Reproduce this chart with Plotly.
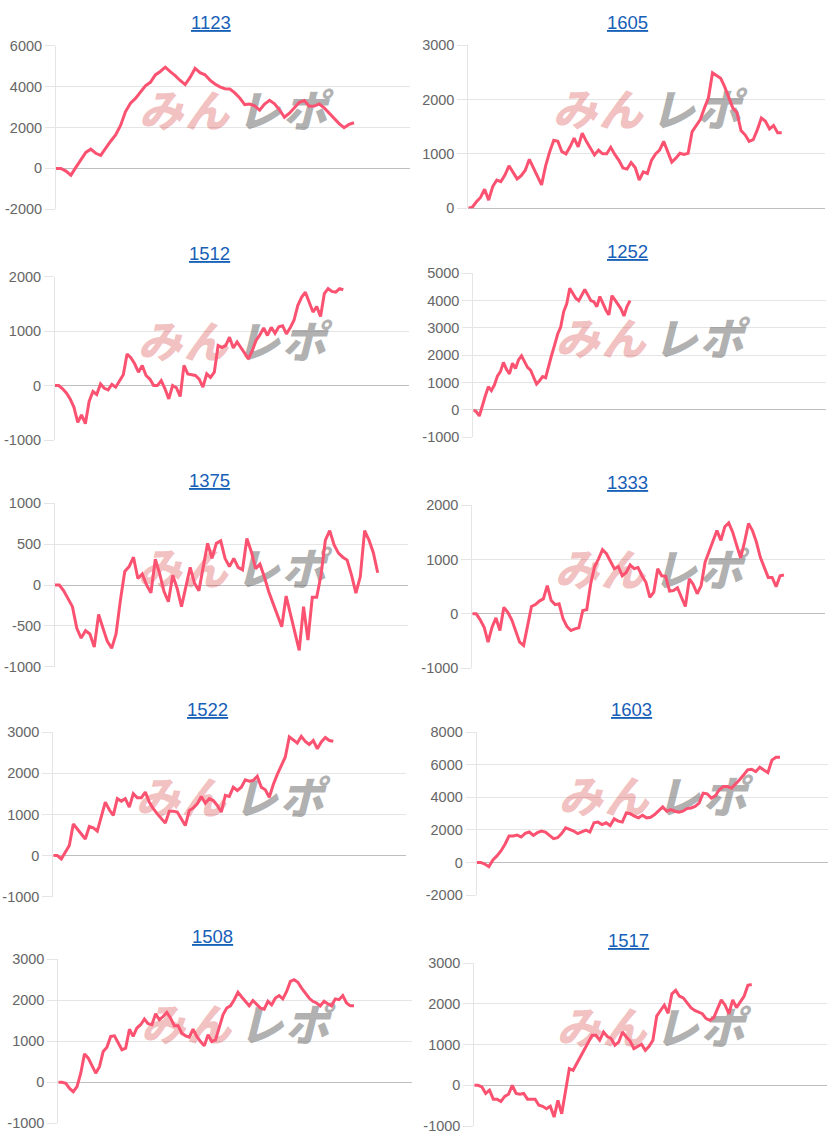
import plotly.graph_objects as go

# ---------------- data ----------------
TITLES = ["1123", "1605", "1512", "1252", "1375", "1333", "1522", "1603", "1508", "1517"]

S_1123 = [0, 0, -130, -330, 50, 440, 780, 940, 740, 640,
          1000, 1330, 1640, 2100, 2780, 3190, 3420, 3720, 4040, 4210,
          4570, 4740, 4950, 4730, 4540, 4300, 4100, 4450, 4890, 4680,
          4580, 4320, 4130, 3990, 3900, 3880, 3690, 3440, 3120, 3150,
          3060, 2850, 3150, 3330, 3160, 2860, 2500, 2700, 2950, 3230,
          3320, 3040, 3045, 3150, 2960, 2700, 2420, 2190, 1990, 2150, 2230]

S_1605 = [0, 20, 120, 200, 350, 150, 400, 520, 490, 610,
          780, 670, 540, 600, 700, 900, 740, 580, 430, 780,
          1040, 1250, 1230, 1040, 1000, 1130, 1290, 1130, 1380, 1230,
          1100, 980, 1070, 1000, 1000, 1120, 990, 880, 740, 720,
          840, 750, 520, 670, 640, 880, 1000, 1070, 1230, 1040,
          850, 920, 1010, 990, 1010, 1410, 1520, 1630, 1840, 2030,
          2490, 2440, 2390, 2230, 2030, 1840, 1760, 1430, 1350, 1230,
          1260, 1440, 1660, 1600, 1460, 1520, 1390, 1390]

S_1512 = [0, 0, -60, -135, -245, -400, -675, -540, -700, -290,
          -110, -165, 30, -50, -80, 20, -30, 90, 200, 580,
          510, 400, 245, 370, 185, 120, 0, 0, 90, -60,
          -245, 0, -40, -200, 370, 215, 195, 185, 120, -30,
          215, 150, 245, 735, 700, 735, 890, 690, 800, 700,
          610, 490, 640, 830, 930, 1060, 920, 1070, 960, 1080,
          1100, 950, 1060, 1200, 1470, 1620, 1715, 1530, 1350, 1450,
          1270, 1690, 1780, 1730, 1715, 1780, 1760]

S_1252 = [0, -60, -220, 180, 520, 850, 710, 910, 1240, 1400,
          1740, 1490, 1320, 1710, 1520, 1830, 1980, 1770, 1560, 1460,
          1220, 950, 1070, 1220, 1180, 1650, 2010, 2380, 2780, 3030,
          3600, 3880, 4450, 4270, 4090, 4000, 4210, 4410, 4210, 4000,
          3960, 3780, 4150, 3880, 3660, 3480, 4180, 4030, 3840, 3700,
          3440, 3780, 4000]

S_1375 = [0, 0, -70, -160, -265, -530, -650, -560, -600, -760,
          -360, -530, -690, -775, -600, -185, 165, 225, 340, 80,
          135, 0, -95, 315, 140, -80, -205, 120, -40, -265,
          -20, 215, 20, -70, 225, 510, 325, 510, 540, 325,
          225, 325, 215, 185, 570, 410, 200, 255, 100, -80,
          -225, -365, -510, -135, -345, -590, -800, -265, -675, -150,
          -150, 120, 550, 665, 490, 390, 340, 305, 120, -100,
          100, 665, 550, 395, 150]

S_1333 = [0, 0, -110, -245, -520, -245, -75, -305, 120, 30,
          -110, -305, -520, -580, -215, 135, 170, 235, 275, 520,
          245, 170, 185, -90, -235, -305, -275, -255, 60, 75,
          550, 870, 1010, 1180, 1105, 980, 830, 870, 700, 760,
          900, 830, 850, 700, 580, 305, 400, 830, 700, 690,
          420, 430, 480, 305, 135, 645, 540, 370, 520, 950,
          1135, 1320, 1530, 1350, 1600, 1670, 1500, 1260, 1030, 1320,
          1660, 1530, 1320, 1040, 850, 670, 670, 500, 700, 715]

S_1522 = [0, 0, -80, 80, 245, 770, 650, 530, 405, 710,
          675, 595, 980, 1300, 1115, 980, 1385, 1325, 1385, 1180,
          1505, 1405, 1405, 1545, 1300, 1140, 1015, 895, 790, 1080,
          1080, 1060, 895, 730, 1100, 1160, 1260, 1440, 1275, 1385,
          1340, 1220, 1060, 1465, 1440, 1665, 1585, 1665, 1845, 1810,
          1830, 1930, 1665, 1600, 1420, 1730, 1975, 2195, 2400, 2890,
          2820, 2740, 2900, 2780, 2705, 2800, 2600, 2765, 2875, 2800, 2780]

S_1603 = [0, 0, -100, -260, 160, 400, 710, 1120, 1630, 1630,
          1680, 1560, 1790, 1870, 1660, 1830, 1930, 1870, 1660, 1460,
          1520, 1770, 2130, 2030, 1930, 1770, 1870, 1990, 1870, 2440,
          2480, 2330, 2440, 2270, 2680, 2540, 2480, 3040, 3000, 2840,
          2740, 2900, 2740, 2780, 2940, 3150, 3410, 3150, 3250, 3150,
          3090, 3150, 3310, 3350, 3450, 3650, 4260, 4220, 3960, 4100,
          4470, 4670, 4670, 4570, 4810, 5080, 5380, 5690, 5730, 5580,
          5850, 5690, 5520, 6290, 6460, 6460]

S_1508 = [0, 0, -25, -150, -230, -105, 220, 690, 585, 380,
          220, 380, 750, 855, 1115, 1130, 950, 790, 830, 1290,
          1115, 1320, 1400, 1540, 1425, 1400, 1665, 1520, 1600, 1700,
          1560, 1375, 1375, 1195, 1130, 1100, 1290, 1115, 990, 885,
          1155, 990, 1030, 1360, 1640, 1805, 1860, 2010, 2190, 2075,
          1970, 1860, 1990, 1885, 1805, 1780, 1970, 1885, 2050, 2110,
          2030, 2210, 2455, 2495, 2435, 2290, 2155, 2050, 1970, 1930,
          1860, 1970, 1910, 1860, 2030, 2010, 2110, 1930, 1860, 1860]

S_1517 = [0, 0, -40, -200, -120, -340, -340, -400, -270, -220,
          0, -200, -220, -200, -340, -340, -340, -490, -515, -575,
          -515, -780, -370, -700, -120, 410, 370, 535, 700, 900,
          1040, 1230, 1230, 1110, 1310, 1200, 1150, 985, 1060, 1310,
          1190, 1090, 900, 960, 1010, 860, 960, 1110, 1700, 1840,
          1970, 1770, 2250, 2335, 2190, 2150, 2020, 1910, 1840, 1800,
          1760, 1640, 1600, 1660, 1890, 2100, 1970, 1760, 2100, 1910,
          2050, 2190, 2460, 2480]

SERIES = [S_1123, S_1605, S_1512, S_1252, S_1375, S_1333, S_1522, S_1603, S_1508, S_1517]

Y_MIN = [-2000, 0, -1000, -1000, -1000, -1000, -1000, -2000, -1000, -1000]
Y_MAX = [6000, 3000, 2000, 5000, 1000, 2000, 3000, 8000, 3000, 3000]
Y_STEP = [2000, 1000, 1000, 1000, 500, 1000, 1000, 2000, 1000, 1000]

WATERMARK = ["み", "ん", "レ", "ポ"]

# ---------------- layout / styling ----------------
W, H = 831, 1140
# plot box per panel in page pixels: left, right, top, bottom, x-pixel where data ends,
# title centre x, title centre y
GEOM = [
    (56.0, 410.0, 45.7, 209.3, 354.0, 211.2, 23.0),
    (468.3, 825.0, 45.0, 208.3, 781.7, 627.8, 22.2),
    (55.0, 408.5, 276.7, 440.0, 343.3, 209.2, 253.7),
    (473.3, 825.7, 273.3, 437.3, 630.0, 627.5, 251.2),
    (55.0, 408.0, 503.3, 666.7, 377.7, 209.2, 480.3),
    (472.3, 825.0, 505.0, 668.3, 784.0, 627.2, 482.2),
    (53.3, 406.0, 732.3, 896.7, 333.3, 207.2, 709.7),
    (476.7, 828.3, 732.3, 895.0, 780.0, 631.2, 709.5),
    (58.3, 411.7, 959.0, 1123.3, 354.0, 212.8, 936.7),
    (474.3, 826.7, 963.3, 1126.0, 751.7, 628.7, 940.3),
]

LINE_COLOR = "rgb(250,82,112)"
GRID_COLOR = "rgba(0,0,0,0.1)"
ZERO_COLOR = "rgba(0,0,0,0.25)"
TICK_FONT = dict(family="Liberation Sans, Arial, sans-serif", size=14.5, color="#666666")
TITLE_FONT = dict(family="Liberation Sans, Arial, sans-serif", size=18.5, color="#1760b8",
                  lineposition="under")
WM_COLORS = ["rgba(210,40,40,0.30)", "rgba(210,40,40,0.30)",
             "rgba(90,90,90,0.47)", "rgba(90,90,90,0.47)"]
WM_OFFSETS_PX = [-72, -26, 26, 72]
WM_YFRAC = 0.57

fig = go.Figure()
layout = dict(width=W, height=H, margin=dict(l=0, r=0, t=0, b=0, autoexpand=False),
              paper_bgcolor="white", plot_bgcolor="white", showlegend=False,
              annotations=[])

for i, vals in enumerate(SERIES):
    k = "" if i == 0 else str(i + 1)
    l, r, t, b, end, tcx, tcy = GEOM[i]
    n = len(vals)
    xmax = (n - 1) * (r - l) / (end - l)
    tickvals = list(range(Y_MIN[i], Y_MAX[i] + 1, Y_STEP[i]))
    layout["xaxis" + k] = dict(domain=[l / W, r / W], range=[0, xmax], visible=False,
                               fixedrange=True, anchor="y" + k)
    layout["yaxis" + k] = dict(domain=[1 - b / H, 1 - t / H], range=[Y_MIN[i], Y_MAX[i]],
                               tickmode="array", tickvals=tickvals,
                               ticktext=[str(v) for v in tickvals], anchor="x" + k,
                               showgrid=True, gridcolor=GRID_COLOR, gridwidth=1,
                               zeroline=True, zerolinecolor=ZERO_COLOR, zerolinewidth=1,
                               showline=True, linecolor=GRID_COLOR, linewidth=1,
                               ticks="outside", ticklen=10, tickcolor=GRID_COLOR,
                               tickfont=TICK_FONT, fixedrange=True)
    # watermark (below the line)
    px_per_x = xmax / (r - l)
    wx = [xmax / 2 + o * px_per_x for o in WM_OFFSETS_PX]
    wy = [Y_MIN[i] + (Y_MAX[i] - Y_MIN[i]) * WM_YFRAC] * 4
    fig.add_trace(go.Scatter(x=wx, y=wy, mode="text", text=WATERMARK,
                             textposition="middle center",
                             textfont=dict(family="Noto Sans CJK JP", size=44,
                                           color=WM_COLORS, weight=900, style="italic"),
                             hoverinfo="skip", xaxis="x" + k, yaxis="y" + k,
                             cliponaxis=False))
    fig.add_trace(go.Scatter(x=list(range(n)), y=vals, mode="lines",
                             line=dict(color=LINE_COLOR, width=3),
                             xaxis="x" + k, yaxis="y" + k))
    layout["annotations"].append(dict(text=TITLES[i], xref="paper", yref="paper",
                                      x=tcx / W, y=1 - tcy / H, xanchor="center",
                                      yanchor="middle", showarrow=False, font=TITLE_FONT))

fig.update_layout(**layout)
POST = ("document.documentElement.style.margin='0';"
        "document.documentElement.style.overflow='hidden';"
        "document.body.style.margin='0';document.body.style.padding='0';"
        "document.body.style.overflow='hidden';"
        "var d=document.getElementById('{plot_id}');"
        "d.style.position='fixed';d.style.left='0px';d.style.top='0px';")
fig.write_html("out.html", config={"displayModeBar": False}, post_script=POST)
